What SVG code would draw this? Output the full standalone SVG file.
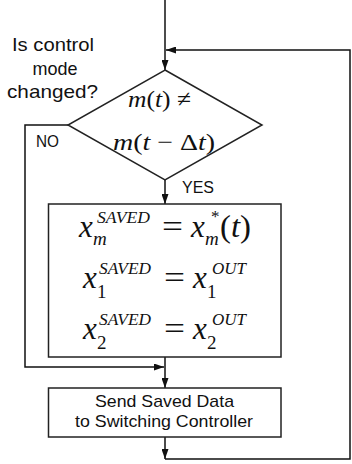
<svg xmlns="http://www.w3.org/2000/svg" width="352" height="464" viewBox="0 0 352 464">
  <style>
    .ln { fill: none; stroke: #111; stroke-width: 1.5; }
    .box { fill: #fff; stroke: #222; stroke-width: 1.5; }
    .lbl { font-family: "Liberation Sans", Arial, sans-serif; fill: #111; }
    .mi { font-family: "Liberation Serif", "Times New Roman", serif; font-style: italic; fill: #111; }
    .mr { font-family: "Liberation Serif", "Times New Roman", serif; font-style: normal; fill: #111; }
    .big { font-size: 31px; }
    .sup { font-size: 17px; }
    .sub { font-size: 19px; }
  </style>
  <defs>
    <marker id="arrow" markerUnits="userSpaceOnUse" markerWidth="10" markerHeight="7" refX="10" refY="3.5" orient="auto">
      <path d="M0,0 L10,3.5 L0,7 Z" fill="#111"/>
    </marker>
  </defs>

  <!-- connectors -->
  <g id="connectors">
    <path class="ln" d="M165,0 V70" marker-end="url(#arrow)"/>
    <path class="ln" d="M165,459 H350 V50 H166" marker-end="url(#arrow)"/>
    <path class="ln" d="M165,180 V204" marker-end="url(#arrow)"/>
    <path class="ln" d="M68,125 H25 V367 H164" marker-end="url(#arrow)"/>
    <path class="ln" d="M165,357 V388" marker-end="url(#arrow)"/>
    <path class="ln" d="M165,437 V459" marker-end="url(#arrow)"/>
    <text class="lbl" x="36" y="147" font-size="16" textLength="23" lengthAdjust="spacingAndGlyphs">NO</text>
    <text class="lbl" x="182" y="193" font-size="16" textLength="32" lengthAdjust="spacingAndGlyphs">YES</text>
  </g>

  <!-- question note beside the decision -->
  <g id="question" class="lbl" font-size="18.5" text-anchor="middle">
    <text x="53" y="51" textLength="82" lengthAdjust="spacingAndGlyphs">Is control</text>
    <text x="55" y="74.5" textLength="45" lengthAdjust="spacingAndGlyphs">mode</text>
    <text x="52.5" y="98" textLength="91" lengthAdjust="spacingAndGlyphs">changed?</text>
  </g>

  <!-- decision: mode change test -->
  <g id="decision">
    <polygon class="box" points="165,70 262,125 165,180 68,125"/>
    <text class="mi" x="128" y="107" font-size="24" textLength="63" lengthAdjust="spacingAndGlyphs">m<tspan class="mr">(</tspan>t<tspan class="mr">) ≠</tspan></text>
    <text class="mi" x="113" y="150" font-size="24" textLength="102" lengthAdjust="spacingAndGlyphs">m<tspan class="mr">(</tspan>t<tspan class="mr"> − Δ</tspan>t<tspan class="mr">)</tspan></text>
  </g>

  <!-- save block -->
  <g id="save">
    <rect class="box" x="48.5" y="204" width="232.5" height="153"/>
    <!-- row 1 -->
    <text class="mi big" x="79" y="237">x</text>
    <text class="mi sup" x="97" y="223" textLength="53" lengthAdjust="spacingAndGlyphs">SAVED</text>
    <text class="mi sub" x="93" y="245">m</text>
    <text class="mr big" x="162" y="237" textLength="21" lengthAdjust="spacingAndGlyphs">=</text>
    <text class="mi big" x="191" y="237">x</text>
    <text class="mr" x="211" y="222" font-size="17">*</text>
    <text class="mi sub" x="205" y="245">m</text>
    <text class="mr big" x="220" y="237" textLength="31" lengthAdjust="spacingAndGlyphs">(<tspan class="mi">t</tspan>)</text>
    <!-- row 2 -->
    <text class="mi big" x="83" y="288">x</text>
    <text class="mi sup" x="99" y="274" textLength="52" lengthAdjust="spacingAndGlyphs">SAVED</text>
    <text class="mr sub" x="97" y="298">1</text>
    <text class="mr big" x="164" y="288" textLength="21" lengthAdjust="spacingAndGlyphs">=</text>
    <text class="mi big" x="193" y="288">x</text>
    <text class="mr sub" x="207" y="298">1</text>
    <text class="mi sup" x="212" y="274" textLength="34" lengthAdjust="spacingAndGlyphs">OUT</text>
    <!-- row 3 -->
    <text class="mi big" x="83" y="339">x</text>
    <text class="mi sup" x="99" y="325" textLength="52" lengthAdjust="spacingAndGlyphs">SAVED</text>
    <text class="mr sub" x="97" y="349">2</text>
    <text class="mr big" x="164" y="339" textLength="21" lengthAdjust="spacingAndGlyphs">=</text>
    <text class="mi big" x="193" y="339">x</text>
    <text class="mr sub" x="207" y="349">2</text>
    <text class="mi sup" x="212" y="325" textLength="34" lengthAdjust="spacingAndGlyphs">OUT</text>
  </g>

  <!-- send block -->
  <g id="send">
    <rect class="box" x="48.5" y="388" width="232.5" height="49"/>
    <text class="lbl" x="164.5" y="406.5" font-size="17" text-anchor="middle" textLength="139" lengthAdjust="spacingAndGlyphs">Send Saved Data</text>
    <text class="lbl" x="164" y="427" font-size="17" text-anchor="middle" textLength="178" lengthAdjust="spacingAndGlyphs">to Switching Controller</text>
  </g>
</svg>
